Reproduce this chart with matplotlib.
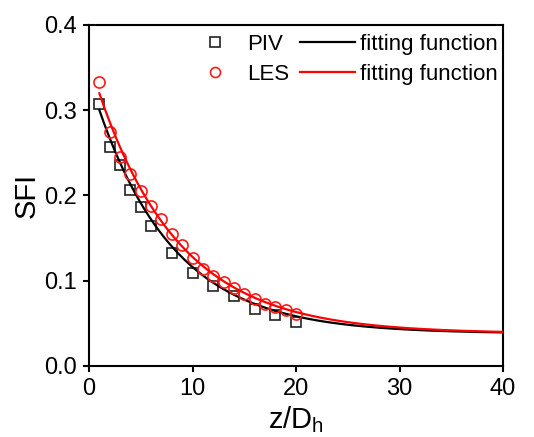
import numpy as np
import matplotlib
matplotlib.use("Agg")
import matplotlib.pyplot as plt
from matplotlib.lines import Line2D

plt.rcParams['font.family'] = ['Liberation Sans', 'DejaVu Sans']
plt.rcParams['mathtext.fontset'] = 'custom'
plt.rcParams['mathtext.rm'] = 'Liberation Sans'
plt.rcParams['mathtext.it'] = 'Liberation Sans:italic'

# PIV data
piv_x = [1, 2, 3, 4, 5, 6, 8, 10, 12, 14, 16, 18, 20]
piv_y = [0.307, 0.257, 0.236, 0.207, 0.186, 0.164, 0.133, 0.109, 0.094,
         0.082, 0.067, 0.060, 0.052]

# LES data
les_x = list(range(1, 21))
les_y = [0.333, 0.274, 0.245, 0.225, 0.205, 0.188, 0.172, 0.155, 0.142,
         0.127, 0.114, 0.106, 0.099, 0.091, 0.084, 0.078, 0.073, 0.069,
         0.066, 0.061]

# exponential-decay fitting functions: y = y0 + A * exp(-x / t)
piv_fit = [0.038, 0.300, 7.43]   # y0, A, t
les_fit = [0.038, 0.320, 7.88]
fit_range = [1, 40]

x_ticks = [0, 10, 20, 30, 40]
y_ticks = [0.0, 0.1, 0.2, 0.3, 0.4]

fig = plt.figure(figsize=(5.34, 4.37), dpi=100)
ax = fig.add_axes([0.1667, 0.1625, 0.7753, 0.7803])

xf = np.linspace(fit_range[0], fit_range[1], 400)
def fit(p, x):
    return p[0] + p[1] * np.exp(-x / p[2])

ms = 7.5
ax.plot(piv_x, piv_y, 's', ms=ms, mfc='none', mec='#222222', mew=1.2, zorder=3)
ax.plot(xf, fit(piv_fit, xf), '-', color='black', lw=1.6, zorder=4)
ax.plot(les_x, les_y, 'o', ms=ms + 0.5, mfc='none', mec='#ff1a1a', mew=1.2, zorder=5)
ax.plot(xf, fit(les_fit, xf), '-', color='#ff0000', lw=1.6, zorder=6)

ax.set_xlim(0, 40)
ax.set_ylim(0, 0.4)
ax.set_xticks(x_ticks)
ax.set_yticks(y_ticks)
ax.set_xticklabels([str(v) for v in x_ticks])
ax.set_yticklabels([f"{v:.1f}" for v in y_ticks])
ax.tick_params(direction='out', length=4.5, width=1.5, labelsize=17, pad=4.5)
for s in ax.spines.values():
    s.set_linewidth(1.5)

ax.set_xlabel('z/D$_\\mathrm{h}$', fontsize=21, labelpad=3)
ax.set_ylabel('SFI', fontsize=21, labelpad=2)

handles = [
    Line2D([], [], ls='none', marker='s', ms=ms, mfc='none', mec='#222222', mew=1.2),
    Line2D([], [], ls='none', marker='o', ms=ms + 0.5, mfc='none', mec='#ff1a1a', mew=1.2),
    Line2D([], [], color='black', lw=1.6),
    Line2D([], [], color='#ff0000', lw=1.6),
]
labels = ['PIV', 'LES', 'fitting function', 'fitting function']
ax.legend(handles, labels, ncol=2, frameon=False, fontsize=16,
          loc='upper right', bbox_to_anchor=(1.008, 1.0), markerscale=0.9,
          handlelength=2.5, handletextpad=0.2, columnspacing=0.45,
          labelspacing=0.4, borderpad=0.2, borderaxespad=0.2)

fig.savefig('out.png', dpi=100)
